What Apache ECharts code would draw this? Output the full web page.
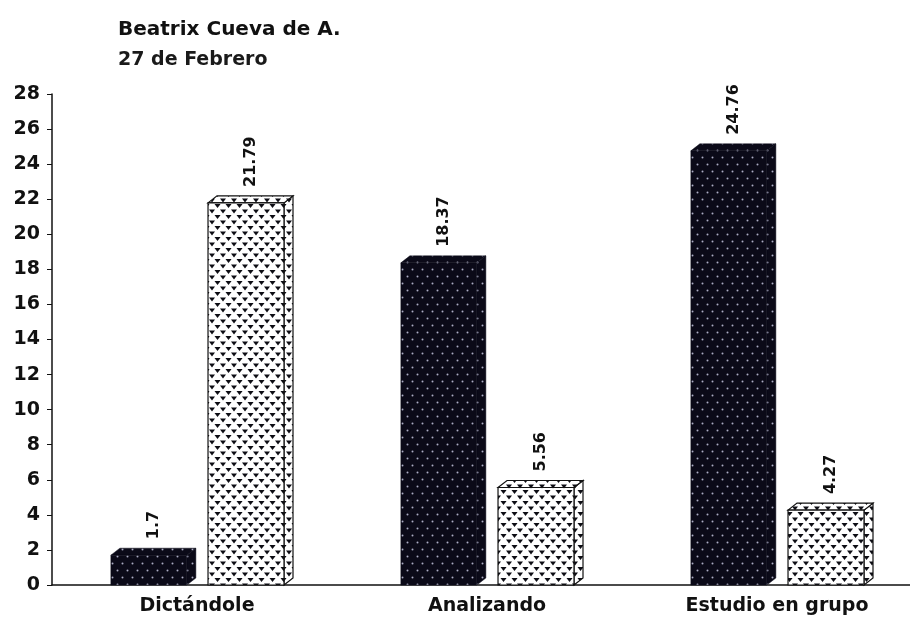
<!DOCTYPE html>
<html>
<head>
<meta charset="utf-8">
<script src="https://cdn.jsdelivr.net/npm/echarts@6/dist/echarts.min.js"></script>
<style>
  html, body { margin: 0; padding: 0; background: #fff; overflow: hidden; }
  #chart { width: 922px; height: 618px; }
</style>
</head>
<body>
<div id="chart"></div>
<script>
// Chart data
const categories = ['Dictándole', 'Analizando', 'Estudio en grupo'];
const darkValues = [1.7, 18.37, 24.76];
const patternValues = [21.79, 5.56, 4.27];
const titleText = 'Beatrix Cueva de A.';
const subtitleText = '27 de Febrero';
const yMin = 0, yMax = 28, yStep = 2;

const FONT = '"DejaVu Sans", "Liberation Sans", Arial, sans-serif';

// Fill patterns for the two kinds of bars
function makeDarkPattern() {
  const c = document.createElement('canvas');
  c.width = 10; c.height = 14;
  const g = c.getContext('2d');
  g.fillStyle = '#0b0a18';
  g.fillRect(0, 0, 10, 14);
  g.fillStyle = 'rgba(190,190,215,0.9)';
  g.beginPath(); g.arc(2.5, 3.5, 1.0, 0, Math.PI * 2); g.fill();
  g.beginPath(); g.arc(7.5, 10.5, 1.0, 0, Math.PI * 2); g.fill();
  return c;
}
function makeTrianglePattern() {
  const c = document.createElement('canvas');
  c.width = 11; c.height = 11;
  const g = c.getContext('2d');
  g.fillStyle = '#ffffff';
  g.fillRect(0, 0, 11, 11);
  g.fillStyle = '#0d0d14';
  function tri(x, y) {
    g.beginPath(); g.moveTo(x, y); g.lineTo(x + 6, y); g.lineTo(x + 3, y + 4); g.closePath(); g.fill();
  }
  tri(0, 0.5); tri(11, 0.5);
  tri(5.5, 6); tri(-5.5, 6);
  return c;
}
const darkFill = { image: makeDarkPattern(), repeat: 'repeat' };
const triFill = { image: makeTrianglePattern(), repeat: 'repeat' };

// 3D-looking bar: front face, top face and right side face
function barRenderer(side) {
  return function (params, api) {
    const v = api.value(1);
    const base = api.coord([api.value(0), 0]);
    const top = api.coord([api.value(0), v]);
    const bw = api.size([1, 0])[0];
    const c = base[0];
    const fw = bw * 0.262;
    const dx = 9, dy = 7;
    const x0 = side === 0 ? c - bw * 0.297 : c + bw * 0.038;
    const x1 = x0 + fw;
    const yb = base[1], yt = top[1];
    const fill = side === 0 ? darkFill : triFill;
    const stroke = side === 0 ? '#0b0a18' : '#111';
    const lw = side === 0 ? 0.5 : 1.2;
    return {
      type: 'group',
      children: [
        {
          type: 'polygon',
          shape: { points: [[x1, yb], [x1 + dx, yb - dy], [x1 + dx, yt - dy], [x1, yt]] },
          style: { fill: fill, stroke: stroke, lineWidth: lw }
        },
        {
          type: 'polygon',
          shape: { points: [[x0, yt], [x0 + dx, yt - dy], [x1 + dx, yt - dy], [x1, yt]] },
          style: { fill: fill, stroke: stroke, lineWidth: lw }
        },
        {
          type: 'rect',
          shape: { x: x0, y: yt, width: fw, height: yb - yt },
          style: { fill: fill, stroke: stroke, lineWidth: lw }
        },
        {
          type: 'text',
          x: x0 + (fw + dx) / 2,
          y: yt - dy - 9,
          rotation: Math.PI / 2,
          style: {
            text: String(v),
            align: 'left',
            verticalAlign: 'middle',
            font: 'bold 16px ' + FONT,
            fill: '#111'
          }
        }
      ]
    };
  };
}

const chart = echarts.init(document.getElementById('chart'), null, { renderer: 'canvas' });
chart.setOption({
  backgroundColor: '#ffffff',
  animation: false,
  title: {
    text: titleText,
    subtext: subtitleText,
    left: 113,
    top: 15,
    itemGap: 11,
    textStyle: { fontFamily: FONT, fontSize: 20, fontWeight: 'bold', color: '#111' },
    subtextStyle: { fontFamily: FONT, fontSize: 19, fontWeight: 'bold', color: '#1a1a1a' }
  },
  grid: { left: 52, right: 0, top: 94, bottom: 33, containLabel: false },
  xAxis: {
    type: 'category',
    data: categories,
    boundaryGap: true,
    axisLine: { lineStyle: { color: '#111', width: 1.5 } },
    axisTick: { alignWithLabel: true, length: 5, lineStyle: { color: '#111' } },
    axisLabel: {
      fontFamily: FONT, fontSize: 19, fontWeight: 'bold', color: '#111', margin: 12,
      interval: 0
    },
    splitLine: { show: false }
  },
  yAxis: {
    type: 'value',
    min: yMin, max: yMax, interval: yStep,
    axisLine: { show: true, lineStyle: { color: '#111', width: 1.5 } },
    axisTick: { show: true, length: 5, lineStyle: { color: '#111' } },
    axisLabel: { fontFamily: FONT, fontSize: 19, fontWeight: 'bold', color: '#111', margin: 12 },
    splitLine: { show: false }
  },
  series: [
    {
      type: 'custom',
      renderItem: barRenderer(0),
      data: darkValues.map((v, i) => [i, v]),
      encode: { x: 0, y: 1 },
      clip: false
    },
    {
      type: 'custom',
      renderItem: barRenderer(1),
      data: patternValues.map((v, i) => [i, v]),
      encode: { x: 0, y: 1 },
      clip: false
    }
  ]
});
</script>
</body>
</html>
